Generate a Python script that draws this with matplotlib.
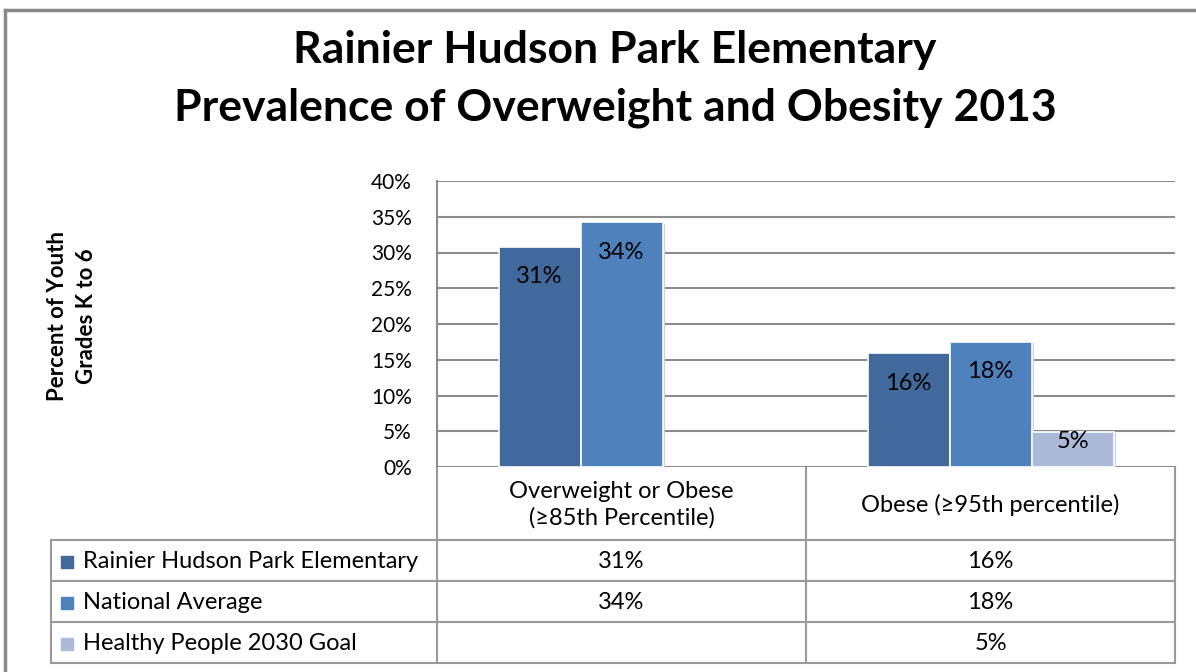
import matplotlib
matplotlib.use('Agg')
import matplotlib.pyplot as plt
from matplotlib.patches import Rectangle

# Chart data
categories = ['Overweight or Obese\n(\u226585th Percentile)', 'Obese (\u226595th percentile)']
series_names = ['Rainier Hudson Park Elementary', 'National Average', 'Healthy People 2030 Goal']
series_values = [
    [30.8, 15.9],   # Rainier Hudson Park Elementary
    [34.2, 17.5],   # National Average
    [None, 4.9],    # Healthy People 2030 Goal
]
series_colors = ['#41699b', '#4f81bd', '#aabad8']
yticks = [0, 5, 10, 15, 20, 25, 30, 35, 40]

title = 'Rainier Hudson Park Elementary\nPrevalence of Overweight and Obesity 2013'
ylabel = 'Percent of Youth\nGrades K to 6'

plt.rcParams['font.family'] = ['Lato', 'DejaVu Sans']

W, H = 1196, 672
fig = plt.figure(figsize=(W / 100, H / 100), dpi=100)
fig.patch.set_facecolor('white')

# layout in pixels
plot_l, plot_r, plot_t, plot_b = 437, 1175, 181, 467
leg_l = 51
row_edges = [467, 540, 581, 622, 663]
grid_col = '#8c8c8c'
line_col = '#9a9a9a'
txt_size = 17

ax = fig.add_axes([plot_l / W, (H - plot_b) / H, (plot_r - plot_l) / W, (plot_b - plot_t) / H])
ax.set_xlim(-0.5, len(categories) - 0.5)
ax.set_ylim(0, 40)

bw = 82 / 369.0
nser = len(series_names)
px_per_unit = (plot_b - plot_t) / 40.0
for s, (vals, col) in enumerate(zip(series_values, series_colors)):
    for i, v in enumerate(vals):
        if v is None:
            continue
        x = i + (s - (nser - 1) / 2) * bw
        # soft shadow like Excel
        ax.bar(x + 0.006, v - 0.15, width=bw, bottom=0, color='#d0d0d0', linewidth=0, zorder=2.5)
        ax.bar(x, v, width=bw, color=col, edgecolor='white', linewidth=1.2, zorder=3)
        hpx = v * px_per_unit
        off = min(30, hpx - 26)
        ax.annotate('%d%%' % round(v), (x, v), xytext=(0, -off), textcoords='offset pixels',
                    ha='center', va='center', fontsize=txt_size, color='black', zorder=4)

ax.set_yticks(yticks)
ax.set_yticklabels(['%d%%' % t for t in yticks], fontsize=15)
ax.tick_params(axis='y', length=0, pad=18)
ax.set_xticks([])
ax.yaxis.grid(True, color=grid_col, linewidth=1.5, zorder=0)
ax.set_axisbelow(True)
for side in ['top', 'right', 'bottom']:
    ax.spines[side].set_visible(False)
ax.spines['left'].set_color(grid_col)
ax.spines['left'].set_linewidth(1.5)

# overlay in pixel coords for title, table and frame
ov = fig.add_axes([0, 0, 1, 1], zorder=-1)
ov.set_xlim(0, W)
ov.set_ylim(H, 0)
ov.axis('off')

ov.plot([5, W], [10, 10], color='#8a8a8a', lw=2.5)
ov.plot([5, 5], [10, H], color='#8a8a8a', lw=2.5)

ov.text(615, 79, title, ha='center', va='center', fontsize=32, fontweight='bold',
        linespacing=1.5)
ov.text(72, 316, ylabel, ha='center', va='center', rotation=90, fontsize=16,
        fontweight='bold', linespacing=1.45)

col_w = (plot_r - plot_l) / len(categories)
col_edges = [plot_l + k * col_w for k in range(len(categories) + 1)]

# table grid
for x in col_edges:
    ov.plot([x, x], [row_edges[0], row_edges[-1]], color=line_col, lw=1.5)
ov.plot([leg_l, leg_l], [row_edges[1], row_edges[-1]], color=line_col, lw=1.5)
for y in row_edges[1:]:
    ov.plot([leg_l, plot_r], [y, y], color=line_col, lw=1.5)

# header
for i, cat in enumerate(categories):
    cx = (col_edges[i] + col_edges[i + 1]) / 2
    ov.text(cx, (row_edges[0] + row_edges[1]) / 2 + 1, cat, ha='center', va='center',
            fontsize=txt_size, linespacing=1.3)

# rows
for s, name in enumerate(series_names):
    cy = (row_edges[s + 1] + row_edges[s + 2]) / 2 + 1
    ov.add_patch(Rectangle((61, cy - 6), 12, 12, color=series_colors[s]))
    ov.text(83, cy, name, ha='left', va='center', fontsize=txt_size)
    for i, v in enumerate(series_values[s]):
        if v is None:
            continue
        cx = (col_edges[i] + col_edges[i + 1]) / 2
        ov.text(cx, cy, '%d%%' % round(v), ha='center', va='center', fontsize=txt_size)

fig.savefig('out.png', dpi=100)
